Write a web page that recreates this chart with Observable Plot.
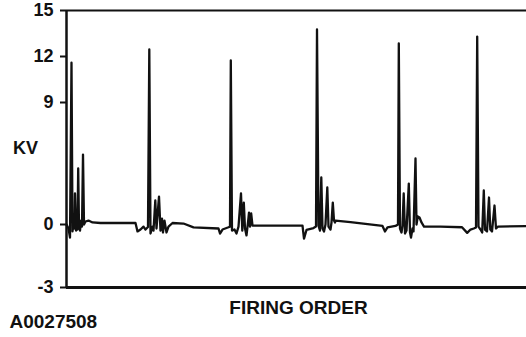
<!DOCTYPE html>
<html><head><meta charset="utf-8">
<script src="https://cdn.jsdelivr.net/npm/d3@7"></script>
<script src="https://cdn.jsdelivr.net/npm/@observablehq/plot@0.6"></script>
<style>
html,body{margin:0;padding:0;background:#fff;}
#chart svg{display:block;}
#chart [aria-label="y-axis tick"]{stroke-width:2px;}
</style></head><body><div id="chart"></div>
<script>
// time (arbitrary units along the firing-order sweep)
const time = [0,2,3.5,5,6,7,8,8.5,9.5,10.3,11,11.7,12.5,13.5,14.5,15.5,16.5,17.5,19,22,26,34,69,71,74,77,79,81.5,82.8,84,86,87,88.8,90,92.5,94,95.5,96.5,98,100,102,106,117,127,152,153.5,156,162,163.5,164.3,165.5,168,170,172,174.5,175.8,177.3,178.5,180,181.5,182.5,183.5,184.7,186,236,237.5,240,247,249.5,250.5,252,253.5,254.8,256,257.5,259,260.8,262,264,265,266.3,267.5,268.5,269,284,316,318.5,321,329,331.5,332.3,333.5,335,336,337.2,338.5,340,342.3,343.5,344.5,346,347,349,350,351.3,353,355,357.5,374,395.5,400.7,404,407.3,409.5,410.7,412,414,415.7,417.3,418.5,420.5,422.5,423.8,425.5,428,429.5,431.5,460];
// secondary ignition voltage (kV)
const kv = [0,-0.19,-0.62,11.6,-0.33,0.15,-0.19,2.29,-0.29,0.66,-0.24,4.13,-0.1,-0.29,0.29,-0.1,5.16,0,0.22,0.29,0.15,0.11,0.11,-0.33,-0.24,-0.1,-0.24,-0.12,12.46,-0.43,-0.1,-0.29,1.77,-0.19,2.06,-0.29,0.44,-0.38,0.29,-0.38,-0.1,0.11,0.07,-0.14,-0.19,-0.43,-0.24,-0.13,-0.1,11.74,-0.29,-0.24,-0.43,-0.1,2.29,-0.29,1.62,-0.19,-0.52,0.15,0.88,-0.1,0.81,-0.05,-0.05,-0.67,-0.26,-0.17,-0.1,13.76,-0.05,-0.29,3.47,-0.19,-0.33,0,2.73,-0.1,-0.24,0.15,1.62,0.29,0.15,0.29,0.18,-0.07,-0.33,-0.14,-0.07,0,12.85,-0.19,-0.38,-0.05,2.29,-0.43,-0.29,3.02,-0.38,-0.62,-0.19,-0.33,4.87,0,0.59,0.52,0.15,-0.1,-0.1,-0.13,-0.4,-0.24,-0.19,-0.14,13.3,-0.1,-0.24,-0.38,2.51,-0.24,-0.33,1.99,-0.24,-0.33,1.4,-0.19,-0.1,-0.08];
const yTicks = [15, 12, 9, 0, -3];
const yLabel = "KV";
const xLabel = "FIRING ORDER";
const figureId = "A0027508";

// the printed kV axis is not evenly spaced (0 sits higher than a linear axis would put it)
const warp = d3.scaleLinear().domain([-3, 0, 9, 15]).range([0, 63, 185, 277]);
const warpedTicks = yTicks.map(v => warp(v));
const tickLabel = new Map(warpedTicks.map((w, i) => [w, String(yTicks[i])]));

const data = time.map((t, i) => ({t, kv: kv[i]}));
const ink = "#111";
const font = "'Liberation Sans', Arial, Helvetica, sans-serif";

const chart = Plot.plot({
  width: 526, height: 337,
  marginLeft: 66, marginRight: 0, marginTop: 10, marginBottom: 50,
  style: {fontFamily: font, fontSize: "18px", fontWeight: "bold", color: ink, background: "#fff"},
  x: {domain: [0, 460], axis: null},
  y: {domain: [warp(-3), warp(15)], ticks: warpedTicks, tickFormat: w => tickLabel.get(w), tickSize: 6, tickPadding: 7, label: null},
  marks: [
    Plot.ruleY([15], {y: d => warp(d), stroke: ink, strokeWidth: 2.2}),
    Plot.ruleY([-3], {y: d => warp(d), stroke: ink, strokeWidth: 3}),
    Plot.ruleX([0], {stroke: ink, strokeWidth: 2.5}),
    Plot.line(data, {x: "t", y: d => warp(d.kv), stroke: ink, strokeWidth: 2.3}),
    Plot.text([yLabel], {text: d => d, frameAnchor: "left", dx: -41, dy: -1, textAnchor: "middle", fontSize: 18, fontWeight: "bold", fill: ink}),
    Plot.text([xLabel], {text: d => d, frameAnchor: "bottom", dx: 2, dy: 26, textAnchor: "middle", fontSize: 19, fontWeight: "bold", fill: ink}),
    Plot.text([figureId], {text: d => d, frameAnchor: "bottom-left", dx: -57, dy: 40, textAnchor: "start", fontSize: 19, fontWeight: "bold", fill: ink})
  ]
});
document.getElementById("chart").appendChild(chart);
</script></body></html>
